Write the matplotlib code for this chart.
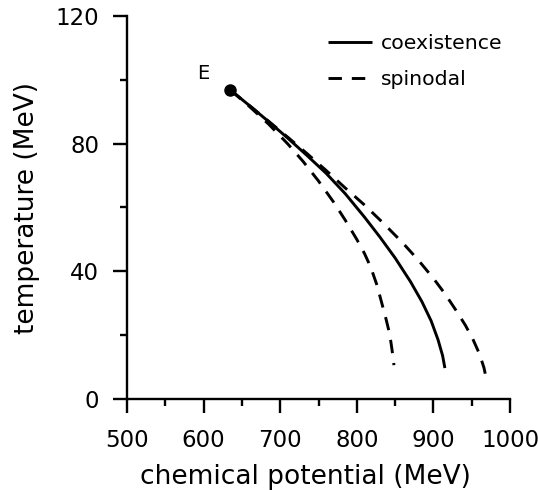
import matplotlib
matplotlib.use("Agg")
import matplotlib.pyplot as plt
from matplotlib.ticker import MultipleLocator

# Data (chemical potential in MeV, temperature in MeV)
coex_mu = [635, 660, 685, 710, 735, 760, 785, 810, 830, 850, 870, 885, 897, 906, 912, 915]
coex_T = [96.8, 91.9, 86.9, 81.7, 76.3, 70.7, 64.3, 57.0, 50.8, 44.2, 36.8, 30.5, 24.5, 18.6, 13.6, 9.7]

spin_out_mu = [635, 660, 685, 710, 735, 760, 785, 810, 835, 860, 880, 900, 915, 930, 942, 952, 960, 966, 970]
spin_out_T = [96.8, 91.9, 87.0, 82.0, 76.9, 71.6, 66.1, 60.8, 55.0, 48.9, 43.6, 37.8, 33.0, 27.6, 23.0, 18.5, 14.2, 9.8, 5.3]

spin_in_mu = [635, 660, 685, 710, 730, 750, 770, 785, 800, 810, 818, 826, 832, 838, 843, 846, 848.5]
spin_in_T = [96.8, 91.6, 86.1, 79.9, 74.4, 68.3, 61.6, 56.0, 50.0, 45.6, 41.4, 35.9, 30.6, 25.2, 20.3, 15.4, 10.6]

E_mu = [635]
E_T = [96.8]
E_label = "E"

x_ticks = [500, 600, 700, 800, 900, 1000]
y_ticks = [0, 40, 80, 120]

plt.rcParams['font.family'] = ['DejaVu Sans']

fig = plt.figure(figsize=(5.38, 4.90), dpi=100)
ax = fig.add_axes([127/538, 1 - 399/490, (510 - 127)/538, (399 - 16)/490])

lw = 2.1
dash = (0, (4.6, 3.4))
ax.plot(coex_mu, coex_T, color='black', lw=lw, solid_capstyle='butt', label='coexistence')
ax.plot(spin_out_mu, spin_out_T, color='black', lw=lw, linestyle=dash, label='spinodal')
ax.plot(spin_in_mu, spin_in_T, color='black', lw=lw, linestyle=dash)
ax.plot(E_mu, E_T, 'o', color='black', markersize=8)
ax.text(599, 102, E_label, fontsize=14, ha='center', va='center')

ax.set_xlim(500, 1000)
ax.set_ylim(0, 120)
ax.set_xticks(x_ticks)
ax.set_yticks(y_ticks)
ax.xaxis.set_minor_locator(MultipleLocator(50))
ax.yaxis.set_minor_locator(MultipleLocator(20))

for s in ['top', 'right']:
    ax.spines[s].set_visible(False)
for s in ['left', 'bottom']:
    ax.spines[s].set_linewidth(1.7)

ax.tick_params(which='major', direction='out', length=10, width=1.7, labelsize=16.5)
ax.tick_params(which='minor', direction='out', length=5, width=1.7)
ax.tick_params(axis='x', which='major', pad=11.5)
ax.tick_params(axis='y', which='major', pad=10)

ax.set_xlabel('chemical potential (MeV)', fontsize=19, va='center', ha='center')
ax.xaxis.set_label_coords((305 - 127)/383, (399 - 477)/383)
ax.set_ylabel('temperature (MeV)', fontsize=19, va='center', ha='center')
ax.yaxis.set_label_coords((27 - 127)/383, (399 - 208)/383)

leg = ax.legend(loc='upper left', bbox_to_anchor=((328 - 127)/383, (399 - 34)/383),
                frameon=False, fontsize=14.7, handlelength=2.15, handletextpad=0.45,
                labelspacing=0.85, borderpad=0, borderaxespad=0)

fig.savefig('out.png', dpi=100)
